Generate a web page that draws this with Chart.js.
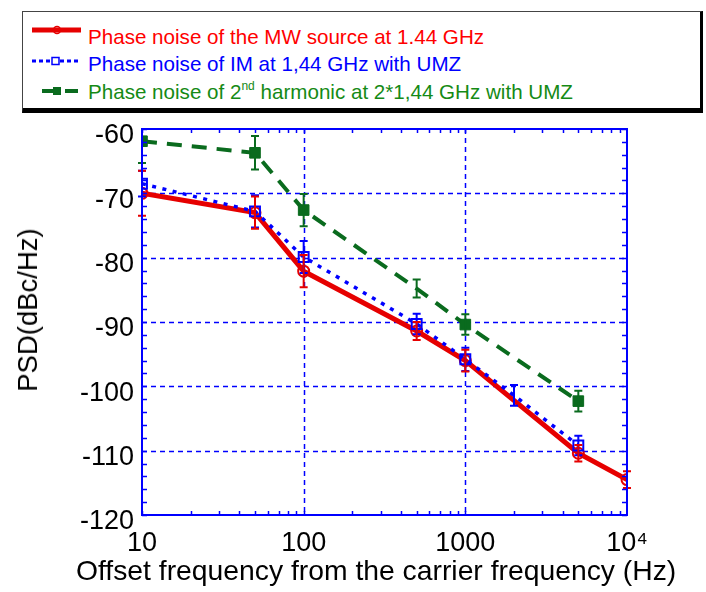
<!DOCTYPE html>
<html>
<head>
<meta charset="utf-8">
<script src="https://cdn.jsdelivr.net/npm/chart.js@4.4.1/dist/chart.umd.min.js"></script>
<style>
  html, body { margin: 0; padding: 0; background: #fff; }
  #wrap { position: relative; width: 706px; height: 592px; font-family: Arial, "Liberation Sans", sans-serif; }
  #chart { position: absolute; left: 0; top: 0; }
  #legend {
    position: absolute; left: 22px; top: 11px; width: 677px; height: 96px;
    border-top: 1px solid #444; border-left: 1px solid #444;
    border-right: 3px solid #000; border-bottom: 5px solid #000;
    background: #fff;
  }
  .item { position: absolute; left: 65px; height: 24px; line-height: 24px; font-size: 20.6px; white-space: nowrap; }
  .item sup { font-size: 12px; line-height: 0; vertical-align: 9px; }
  #samples { position: absolute; left: 0; top: 0; }
  .axis-title { position: absolute; color: #000; white-space: nowrap; line-height: 32px; }
  #xtitle { left: 76px; top: 554px; font-size: 28.3px; }
  #ytitle { left: 28px; top: 310px; font-size: 27.5px; transform: translate(-50%, -50%) rotate(-90deg); }
</style>
</head>
<body>
<div id="wrap">
  <canvas id="chart" width="706" height="592"></canvas>
  <div id="legend">
    <div class="item" style="top:13px;color:#ff0000">Phase noise of the MW source at 1.44 GHz</div>
    <div class="item" style="top:40px;color:#0000ff">Phase noise of IM at 1,44 GHz with UMZ</div>
    <div class="item" style="top:68px;color:#158a15">Phase noise of 2<sup>nd</sup> harmonic at 2*1,44 GHz with UMZ</div>
  </div>
  <svg id="samples" width="100" height="110">
    <line x1="32" y1="30" x2="81" y2="30" stroke="#e60000" stroke-width="5"/>
    <circle cx="57" cy="30" r="3.5" fill="none" stroke="#e60000" stroke-width="1.5"/>
    <line x1="32" y1="61" x2="78" y2="61" stroke="#0000ff" stroke-width="3" stroke-dasharray="4 3"/>
    <rect x="52" y="57.5" width="7" height="7" fill="#fff" stroke="#0000ff" stroke-width="1.5"/>
    <line x1="42" y1="91" x2="53" y2="91" stroke="#0a6b1e" stroke-width="4"/>
    <rect x="53" y="87" width="8" height="8" fill="#0a6b1e"/>
    <line x1="65" y1="91" x2="78" y2="91" stroke="#0a6b1e" stroke-width="4"/>
  </svg>
  <div id="xtitle" class="axis-title">Offset frequency from the carrier frequency (Hz)</div>
  <div id="ytitle" class="axis-title">PSD(dBc/Hz)</div>
</div>
<script>
// offset frequency (Hz) and PSD (dBc/Hz)
const redX = [10, 50, 100, 500, 1000, 5000, 10000];
const redY = [-70, -73, -82.1, -91.4, -96, -110.4, -114.5];
const redErr = [3.5, 2.5, 2.5, 1.4, 1.7, 1.3, 1.3];

const blueX = [10, 50, 100, 500, 1000, 2000, 5000];
const blueY = [-68.5, -72.8, -79.9, -90.3, -95.8, -101.4, -109.2];
const blueErr = [2, 2.5, 2.5, 1.6, 1.8, 1.6, 1.5];

const greenX = [10, 50, 100, 500, 1000, 5000];
const greenY = [-61.9, -63.7, -72.6, -84.8, -90.4, -102.3];
const greenErr = [3.4, 2.6, 2.5, 1.4, 1.6, 1.6];

const xTicks = [10, 100, 1000, 10000];
const xTickLabels = ['10', '100', '1000', '10\u2074'];
const yTicks = [-120, -110, -100, -90, -80, -70, -60];

const FONT = 'Arial, "Liberation Sans", sans-serif';
const AXIS_BLUE = '#0000ff';

function pts(xs, ys) {
  return xs.map((v, i) => ({ x: v, y: ys[i] }));
}

// grid, error bars, box frame with inward ticks
const framePlugin = {
  id: 'framePlugin',
  beforeDatasetsDraw(chart) {
    const { ctx, chartArea: a, scales: { x, y } } = chart;
    ctx.save();
    ctx.strokeStyle = AXIS_BLUE;
    ctx.lineWidth = 1.5;
    ctx.setLineDash([5, 4]);
    ctx.beginPath();
    yTicks.slice(1, -1).forEach(v => {
      const py = Math.round(y.getPixelForValue(v)) + 0.5;
      ctx.moveTo(a.left, py);
      ctx.lineTo(a.right, py);
    });
    xTicks.slice(1, -1).forEach(v => {
      const px = Math.round(x.getPixelForValue(v)) + 0.5;
      ctx.moveTo(px, a.top);
      ctx.lineTo(px, a.bottom);
    });
    ctx.stroke();
    ctx.restore();
  },
  afterDatasetsDraw(chart) {
    const { ctx, chartArea: a, scales: { x, y } } = chart;
    ctx.save();
    ctx.beginPath();
    ctx.rect(a.left - 6, a.top, a.right - a.left + 12, a.bottom - a.top);
    ctx.clip();
    chart.data.datasets.forEach(ds => {
      ctx.strokeStyle = ds.borderColor;
      ctx.lineWidth = 2;
      ctx.setLineDash([]);
      ctx.beginPath();
      ds.data.forEach((p, i) => {
        const e = ds.errors[i];
        const px = x.getPixelForValue(p.x);
        const y1 = y.getPixelForValue(p.y + e);
        const y2 = y.getPixelForValue(p.y - e);
        ctx.moveTo(px, y1); ctx.lineTo(px, y2);
        ctx.moveTo(px - 4, y1); ctx.lineTo(px + 4, y1);
        ctx.moveTo(px - 4, y2); ctx.lineTo(px + 4, y2);
      });
      ctx.stroke();
    });
    ctx.restore();
  },
  afterDraw(chart) {
    const { ctx, chartArea: a, scales: { x, y } } = chart;
    ctx.save();
    ctx.strokeStyle = AXIS_BLUE;
    ctx.setLineDash([]);
    ctx.lineWidth = 2;
    ctx.strokeRect(a.left, a.top, a.right - a.left, a.bottom - a.top);
    ctx.lineWidth = 1.5;
    ctx.beginPath();
    for (let v = -120; v <= -60; v += 2) {
      const py = Math.round(y.getPixelForValue(v)) + 0.5;
      ctx.moveTo(a.left, py); ctx.lineTo(a.left + 5, py);
      ctx.moveTo(a.right, py); ctx.lineTo(a.right - 5, py);
    }
    for (let k = 1; k < 4; k++) {
      for (let d = 1; d <= 9; d++) {
        const px = Math.round(x.getPixelForValue(d * Math.pow(10, k))) + 0.5;
        ctx.moveTo(px, a.bottom); ctx.lineTo(px, a.bottom - 4);
        ctx.moveTo(px, a.top); ctx.lineTo(px, a.top + 4);
      }
    }
    ctx.stroke();
    ctx.restore();
  }
};

const ctx = document.getElementById('chart');
new Chart(ctx, {
  type: 'line',
  data: {
    datasets: [{
      label: 'Phase noise of IM at 1,44 GHz with UMZ',
      data: pts(blueX, blueY),
      errors: blueErr,
      order: 0,
      borderColor: '#0000ff',
      borderWidth: 3.5,
      borderDash: [4, 6.5],
      pointStyle: 'rect',
      pointRadius: [7, 7, 7, 7, 7, 0, 7],
      pointBorderWidth: 2,
      pointBorderColor: '#0000ff',
      pointBackgroundColor: 'rgba(0,0,0,0)',
      fill: false,
      tension: 0
    }, {
      label: 'Phase noise of the MW source at 1.44 GHz',
      data: pts(redX, redY),
      errors: redErr,
      order: 1,
      borderColor: '#e60000',
      borderWidth: 5,
      pointStyle: 'circle',
      pointRadius: 5.5,
      pointBorderWidth: 2,
      pointBorderColor: '#e60000',
      pointBackgroundColor: 'rgba(0,0,0,0)',
      fill: false,
      tension: 0
    }, {
      label: 'Phase noise of 2nd harmonic at 2*1,44 GHz with UMZ',
      data: pts(greenX, greenY),
      errors: greenErr,
      order: 2,
      borderColor: '#0a6b1e',
      borderWidth: 4,
      borderDash: [15, 10],
      pointStyle: 'rect',
      pointRadius: [7.5, 7.5, 7.5, 0, 7.5, 7.5],
      pointBorderWidth: 1,
      pointBorderColor: '#0a6b1e',
      pointBackgroundColor: '#0a6b1e',
      fill: false,
      tension: 0
    }]
  },
  options: {
    responsive: false,
    animation: false,
    layout: { padding: { top: 129, right: 79, left: 0, bottom: 0 } },
    plugins: {
      legend: { display: false },
      tooltip: { enabled: false }
    },
    scales: {
      x: {
        type: 'logarithmic',
        min: 10,
        max: 10000,
        afterBuildTicks: s => { s.ticks = xTicks.map(v => ({ value: v })); },
        afterFit: s => { s.height = 77; },
        grid: { display: false, drawTicks: false },
        border: { display: false },
        ticks: {
          autoSkip: false,
          maxRotation: 0,
          padding: 12,
          color: '#000',
          font: { size: 27, family: FONT },
          callback: v => xTickLabels[xTicks.indexOf(v)]
        },
        title: { display: false }
      },
      y: {
        min: -120,
        max: -60,
        afterBuildTicks: s => { s.ticks = yTicks.map(v => ({ value: v })); },
        afterFit: s => { s.width = 142; },
        grid: { display: false, drawTicks: false },
        border: { display: false },
        ticks: {
          padding: 8,
          labelOffset: 7,
          color: '#000',
          font: { size: 27, family: FONT }
        },
        title: { display: false }
      }
    }
  },
  plugins: [framePlugin]
});
</script>
</body>
</html>
